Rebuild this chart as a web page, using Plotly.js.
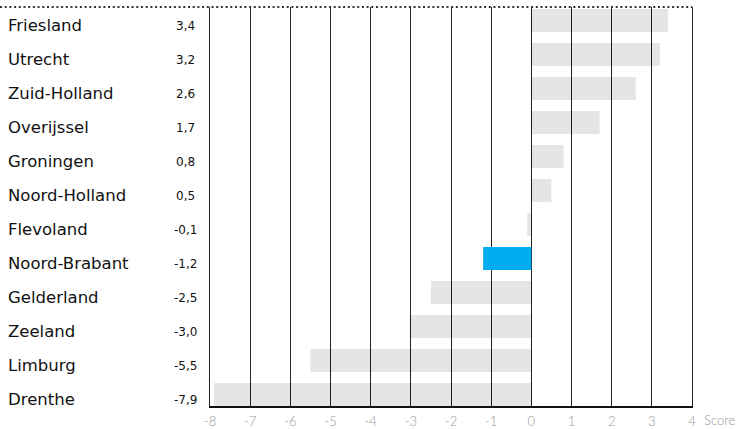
<!DOCTYPE html>
<html>
<head>
<meta charset="utf-8">
<script src="https://cdn.plot.ly/plotly-3.0.1.min.js"></script>
<style>html,body{margin:0;padding:0;background:#fff;}#chart{width:743px;height:429px;}</style>
</head>
<body>
<div id="chart"></div>
<script>
const provinces = ['Friesland','Utrecht','Zuid-Holland','Overijssel','Groningen','Noord-Holland','Flevoland','Noord-Brabant','Gelderland','Zeeland','Limburg','Drenthe'];
const scores = [3.4, 3.2, 2.6, 1.7, 0.8, 0.5, -0.1, -1.2, -2.5, -3.0, -5.5, -7.9];
const highlight = 'Noord-Brabant';
const xTicks = [-8,-7,-6,-5,-4,-3,-2,-1,0,1,2,3,4];
const axisUnit = 'Score';

const W = 743, H = 429, L = 210, R = 51, T = 7, B = 23;
const plotW = W - L - R;

const colors = provinces.map(p => p === highlight ? '#00aeef' : 'rgba(0,0,0,0.1)');

const trace = {
  type: 'bar', orientation: 'h',
  y: provinces, x: scores,
  marker: {color: colors, line: {width: 0}},
  hoverinfo: 'skip'
};

const annotations = [];
provinces.forEach((p, i) => {
  annotations.push({
    xref: 'paper', yref: 'y', x: (6 - L) / plotW, y: p, xanchor: 'left', yanchor: 'middle',
    text: p, showarrow: false, yshift: -5,
    font: {family: 'DejaVu Sans, sans-serif', size: 16.5, color: '#111'}
  });
  annotations.push({
    xref: 'paper', yref: 'y', x: (185 - L) / plotW, y: p, xanchor: 'center', yanchor: 'middle',
    text: scores[i].toFixed(1).replace('.', ','), showarrow: false, yshift: -5,
    font: {family: 'DejaVu Sans, sans-serif', size: 12, color: '#111'}
  });
});
annotations.push({
  xref: 'paper', yref: 'paper', x: 1, y: 0, xanchor: 'left', yanchor: 'top',
  xshift: 10, yshift: -4, text: axisUnit, showarrow: false,
  font: {family: 'Lato, sans-serif', size: 13, color: '#999', weight: 300}
});

const layout = {
  width: W, height: H,
  margin: {l: L, r: R, t: T, b: B, pad: 0},
  paper_bgcolor: '#fff', plot_bgcolor: '#fff',
  showlegend: false,
  bargap: 0.324,
  xaxis: {
    range: [-8, 4], tickvals: xTicks, ticktext: xTicks.map(String),
    showgrid: true, gridcolor: '#222', gridwidth: 1,
    zeroline: false, showline: true, linecolor: '#111', linewidth: 2,
    ticks: '', ticklabelstandoff: 2,
    tickfont: {family: 'Lato, sans-serif', size: 13, color: '#999', weight: 300},
    fixedrange: true
  },
  yaxis: {
    type: 'category', categoryorder: 'array', categoryarray: provinces,
    range: [11.338, -0.397],
    showticklabels: false, showgrid: false, zeroline: false,
    showline: true, mirror: true, linecolor: '#222', linewidth: 1,
    ticks: '', fixedrange: true
  },
  shapes: [{
    type: 'line', xref: 'paper', yref: 'paper',
    x0: -L / plotW, x1: 1, y0: 1, y1: 1,
    line: {color: '#333', width: 2, dash: '2px,2.7px'}
  }],
  annotations: annotations
};

Plotly.newPlot('chart', [trace], layout, {displayModeBar: false, staticPlot: true});
</script>
</body>
</html>
